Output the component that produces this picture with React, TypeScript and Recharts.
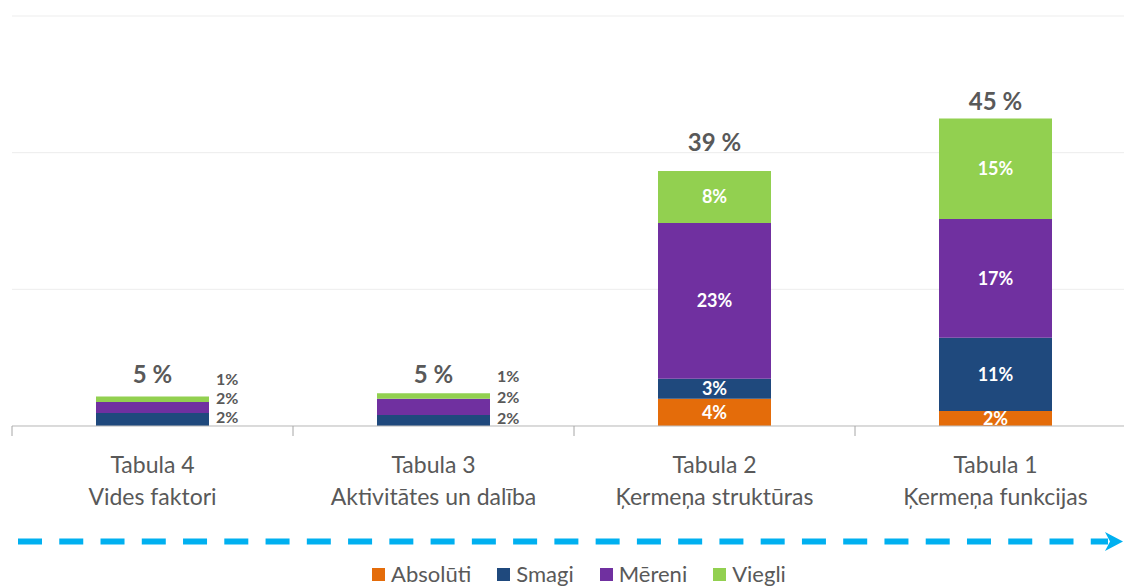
import * as React from "react";
import {
  ComposedChart,
  Bar,
  Line,
  XAxis,
  YAxis,
  CartesianGrid,
  Legend,
  LabelList,
} from "recharts";

// dati nolasīti no attēla (procenti)
const categories = ["Tabula 4", "Tabula 3", "Tabula 2", "Tabula 1"];
const subtitles = ["Vides faktori", "Aktivitātes un dalība", "Ķermeņa struktūras", "Ķermeņa funkcijas"];
const absoluti = [0, 0, 4.0, 2.2];
const smagi = [1.9, 1.6, 2.9, 10.7];
const mereni = [1.6, 2.4, 22.8, 17.4];
const viegli = [0.8, 0.8, 7.6, 14.7];
const totals = [5, 5, 39, 45];
const yTicks = [0, 20, 40, 60];

const SERIES = [
  { key: "absoluti", name: "Absolūti", color: "#E46C0A", nudge: 0 },
  { key: "smagi", name: "Smagi", color: "#1F497D", nudge: -2 },
  { key: "mereni", name: "Mēreni", color: "#7030A0", nudge: -9 },
  { key: "viegli", name: "Viegli", color: "#92D050", nudge: -20 },
];

const FONT = "Lato, 'Open Sans', sans-serif";
const GRAY = "#595959";
const W = 1140;
const H = 586;
const M = { top: 16, right: 4, left: 12, bottom: 0 };
const BAND = (W - M.left - M.right) / categories.length;

const data = categories.map((c, i) => ({
  category: c,
  absoluti: absoluti[i],
  smagi: smagi[i],
  mereni: mereni[i],
  viegli: viegli[i],
  total: totals[i],
}));

// kategorijas indekss pēc stabiņa centra
const catIndex = (cx: number) => Math.max(0, Math.min(categories.length - 1, Math.floor((cx - M.left) / BAND)));

function segLabel(nudge: number) {
  return (p: any) => {
    const { x, y, width, height, value } = p;
    const v = Number(value);
    if (!v) return null;
    const i = catIndex(Number(x) + Number(width) / 2);
    const small = totals[i] < 10;
    const txt = `${Math.round(v)}%`;
    if (small) {
      return (
        <text
          x={Number(x) + Number(width) + 7}
          y={Number(y) + Number(height) / 2 + nudge}
          dy="0.35em"
          fill={GRAY}
          fontSize={16}
          fontWeight={700}
          fontFamily={FONT}
        >
          {txt}
        </text>
      );
    }
    return (
      <text
        x={Number(x) + Number(width) / 2}
        y={Number(y) + Number(height) / 2}
        dy="0.35em"
        textAnchor="middle"
        fill="#fff"
        fontSize={18}
        fontWeight={700}
        fontFamily={FONT}
      >
        {txt}
      </text>
    );
  };
}

function TotalLabel(p: any) {
  const { x, y, value } = p;
  return (
    <text
      x={x}
      y={Number(y) - 9}
      textAnchor="middle"
      fill={GRAY}
      fontSize={24}
      fontWeight={700}
      fontFamily={FONT}
    >
      {`${value} %`}
    </text>
  );
}

function CatTick(p: any) {
  const { x, y, payload } = p;
  const left = Number(x) - BAND / 2;
  const i = categories.indexOf(payload.value);
  return (
    <g>
      <line x1={left} y1={y} x2={left} y2={Number(y) + 10} stroke="#A6A6A6" />
      <text textAnchor="middle" fill={GRAY} fontSize={23} fontFamily={FONT}>
        <tspan x={x} y={Number(y) + 47}>{payload.value}</tspan>
        <tspan x={x} y={Number(y) + 79}>{subtitles[i]}</tspan>
      </text>
    </g>
  );
}

function LegendBox() {
  return (
    <div
      style={{
        display: "flex",
        justifyContent: "center",
        gap: 26,
        paddingLeft: 10,
        fontFamily: FONT,
        fontSize: 22,
        color: GRAY,
        lineHeight: "24px",
        height: 24,
      }}
    >
      {SERIES.map((s) => (
        <div key={s.key} style={{ display: "flex", alignItems: "center", gap: 6 }}>
          <span style={{ width: 13, height: 13, background: s.color, display: "inline-block" }} />
          <span>{s.name}</span>
        </div>
      ))}
    </div>
  );
}

export default function App() {
  return (
    <div
      style={{
        position: "fixed",
        left: 0,
        top: 0,
        width: 1124,
        height: 586,
        overflow: "hidden",
        background: "#fff",
      }}
    >
      <ComposedChart width={W} height={H} data={data} margin={M}>
        <CartesianGrid vertical={false} stroke="#EDEDED" />
        <YAxis hide domain={[0, 60]} ticks={yTicks} />
        <XAxis
          dataKey="category"
          height={136}
          axisLine={{ stroke: "#BFBFBF" }}
          tickLine={false}
          tickSize={0}
          tickMargin={0}
          interval={0}
          tick={<CatTick />}
        />
        {SERIES.map((s) => (
          <Bar
            key={s.key}
            dataKey={s.key}
            name={s.name}
            stackId="a"
            fill={s.color}
            barSize={113}
            isAnimationActive={false}
          >
            <LabelList dataKey={s.key} content={segLabel(s.nudge)} />
          </Bar>
        ))}
        <Line
          dataKey="total"
          stroke="none"
          dot={false}
          activeDot={false}
          legendType="none"
          isAnimationActive={false}
        >
          <LabelList dataKey="total" content={<TotalLabel />} />
        </Line>
        <Legend verticalAlign="bottom" height={24} content={<LegendBox />} />
      </ComposedChart>
      <svg
        width={1124}
        height={586}
        style={{ position: "absolute", left: 0, top: 0, pointerEvents: "none" }}
      >
        <line x1={18} y1={541.5} x2={1108} y2={541.5} stroke="#00B0F0" strokeWidth={6} strokeDasharray="24 17.26" />
        <polygon points="1105,532 1123,541.5 1105,551 1110,541.5" fill="#00B0F0" />
      </svg>
    </div>
  );
}
